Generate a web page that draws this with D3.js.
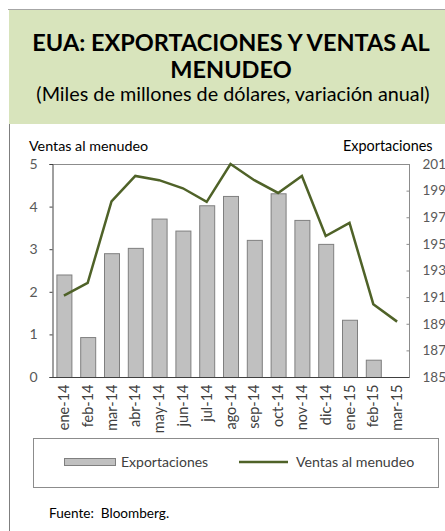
<!DOCTYPE html>
<html><head><meta charset="utf-8">
<script src="https://cdn.jsdelivr.net/npm/d3@7"></script>
<style>
html,body{margin:0;padding:0;background:#fff;}
svg{display:block;font-family:Lato,"Open Sans",sans-serif;}
</style></head>
<body>
<svg id="c" width="445" height="531"></svg>
<script>
const categories = ["ene-14","feb-14","mar-14","abr-14","may-14","jun-14","jul-14","ago-14","sep-14","oct-14","nov-14","dic-14","ene-15","feb-15","mar-15"];
const exportaciones = [192.7,188.0,194.3,194.7,196.9,196.0,197.9,198.6,195.3,198.8,196.8,195.0,189.3,186.3,null];
const ventasMenudeo = [1.91,2.21,4.12,4.72,4.62,4.43,4.11,5.0,4.62,4.32,4.72,3.31,3.62,1.71,1.30];
const leftTicks = [0,1,2,3,4,5];
const rightTicks = [185,187,189,191,193,195,197,199,201];

const svg = d3.select("#c");
const W = 445, H = 531;
const m = {left:52, right:409, top:164, bottom:377};

// frame
svg.append("rect").attr("x",9).attr("y",10).attr("width",W-9).attr("height",114).attr("fill","#D8E4BC");
svg.append("line").attr("x1",8).attr("x2",W).attr("y1",9.5).attr("y2",9.5).attr("stroke","#A6A6A6");
svg.append("line").attr("x1",9.5).attr("x2",9.5).attr("y1",124).attr("y2",H).attr("stroke","#7F7F7F");

// titles
svg.append("text").attr("x",231).attr("y",51).attr("text-anchor","middle").attr("font-weight","bold").attr("font-size",23.5).attr("fill","#000").text("EUA: EXPORTACIONES Y VENTAS AL");
svg.append("text").attr("x",231).attr("y",78).attr("text-anchor","middle").attr("font-weight","bold").attr("font-size",23.5).attr("fill","#000").text("MENUDEO");
svg.append("text").attr("x",233).attr("y",101).attr("text-anchor","middle").attr("font-size",19.8).attr("fill","#000").text("(Miles de millones de dólares, variación anual)");

const x = d3.scaleBand().domain(categories).range([m.left,m.right]).paddingInner(0.37).paddingOuter(0.185);
const yL = d3.scaleLinear().domain([0,5]).range([m.bottom,m.top]);
const yR = d3.scaleLinear().domain([185,201]).range([m.bottom,m.top]);

// plot border
svg.append("line").attr("x1",m.left).attr("x2",m.right).attr("y1",m.top+0.5).attr("y2",m.top+0.5).attr("stroke","#8C8C8C");
svg.append("line").attr("x1",m.right+0.5).attr("x2",m.right+0.5).attr("y1",m.top).attr("y2",m.bottom).attr("stroke","#8C8C8C");

// bars
const bd = categories.map((c,i)=>({c, v:exportaciones[i]})).filter(d=>d.v!=null);
svg.append("g").selectAll("rect").data(bd).join("rect")
  .attr("x",d=>x(d.c)+0.5).attr("width",x.bandwidth())
  .attr("y",d=>yR(d.v)+0.5).attr("height",d=>yR(185)-yR(d.v))
  .attr("fill","#C0C0C0").attr("stroke","#7F7F7F").attr("stroke-width",1);

// line
const line = d3.line().x((d,i)=>x(categories[i])+x.bandwidth()/2).y(d=>yL(d));
svg.append("path").datum(ventasMenudeo).attr("d",line).attr("fill","none").attr("stroke","#4F6228").attr("stroke-width",2.5).attr("stroke-linejoin","miter");

// left axis
const gl = svg.append("g").attr("transform",`translate(${m.left+0.5},0)`)
  .call(d3.axisLeft(yL).tickValues(leftTicks).tickFormat(d3.format("d")).tickSize(3).tickPadding(12));
gl.select(".domain").attr("stroke","#404040");
gl.selectAll(".tick line").attr("stroke","#404040");
gl.selectAll("text").attr("font-size",14).attr("fill","#595959").attr("font-family","Lato,'Open Sans',sans-serif");

// right axis
const gr = svg.append("g").attr("transform",`translate(${m.right+0.5},0)`)
  .call(d3.axisRight(yR).tickValues(rightTicks).tickFormat(d3.format("d")).tickSize(-3).tickPadding(13));
gr.select(".domain").remove();
gr.selectAll(".tick line").attr("stroke","#8C8C8C");
gr.selectAll("text").attr("font-size",13.5).attr("fill","#595959").attr("font-family","Lato,'Open Sans',sans-serif");

// bottom axis
const gb = svg.append("g").attr("transform",`translate(0,${m.bottom+0.5})`)
  .call(d3.axisBottom(x).tickSize(0).tickPadding(0));
gb.select(".domain").attr("stroke","#404040").attr("d",`M${m.left},0H${m.right+0.5}`);
gb.selectAll("text").attr("font-size",14.5).attr("fill","#404040").attr("font-family","Lato,'Open Sans',sans-serif")
  .attr("transform","rotate(-90)").attr("text-anchor","end").attr("dy","0.35em").attr("x",-7).attr("y",0);

// axis titles
svg.append("text").attr("x",29).attr("y",151).attr("font-size",14.3).attr("fill","#000").text("Ventas al menudeo");
svg.append("text").attr("x",343).attr("y",151).attr("font-size",14.4).attr("fill","#000").text("Exportaciones");

// legend
svg.append("rect").attr("x",33.5).attr("y",438.5).attr("width",405).attr("height",49).attr("fill","none").attr("stroke","#8C8C8C");
svg.append("rect").attr("x",64.5).attr("y",458.5).attr("width",51).attr("height",7).attr("fill","#C0C0C0").attr("stroke","#7F7F7F");
svg.append("text").attr("x",121).attr("y",467).attr("font-size",14).attr("fill","#404040").text("Exportaciones");
svg.append("line").attr("x1",239).attr("x2",288).attr("y1",462).attr("y2",462).attr("stroke","#4F6228").attr("stroke-width",2.5);
svg.append("text").attr("x",296).attr("y",467).attr("font-size",14.2).attr("fill","#404040").text("Ventas al menudeo");

svg.append("text").attr("x",49).attr("y",518).attr("font-size",13.6).attr("fill","#000").attr("xml:space","preserve").text("Fuente:  Bloomberg.");
</script>
</body></html>
